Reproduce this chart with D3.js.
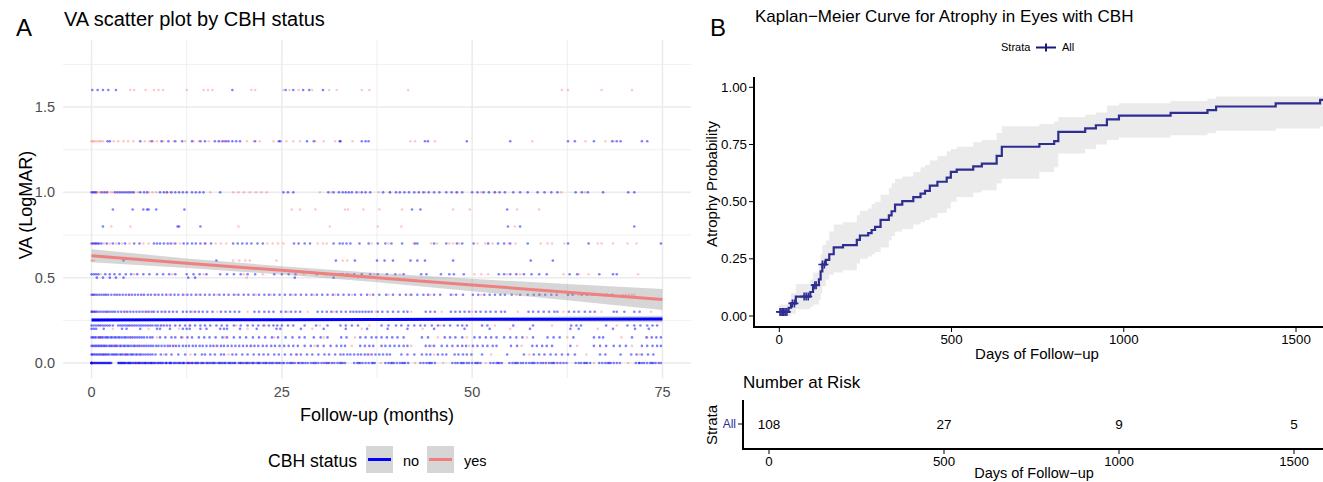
<!DOCTYPE html>
<html><head><meta charset="utf-8">
<script src="https://cdn.jsdelivr.net/npm/d3@7"></script>
<style>body{margin:0;background:#fff;} text{font-family:"Liberation Sans",Arial,Helvetica,sans-serif;}</style>
</head><body><svg id="c" width="1323" height="482"></svg>
<script>
// ---------------- Panel A data: VA (LogMAR) levels and follow-up months ----------------
const vaLevels = [0, 0.05, 0.1, 0.15, 0.2, 0.22, 0.3, 0.4, 0.5, 0.52, 0.6, 0.7, 0.8, 0.9, 1.0, 1.3, 1.6];
const no_000 = [0,0,0,0,0.1,0.3,0.4,0.6,0.8,0.9,1.1,1.3,1.4,1.6,1.8,1.9,2.1,2.3,2.5,2.6,3.5,3.6,3.8,4.0,4.1,4.3,4.5,4.7,4.9,5.0,5.2,5.5,5.7,5.8,6.1,6.3,6.4,6.6,6.9,7.1,7.2,7.5,7.7,7.9,8.0,8.3,8.5,8.8,9.0,9.1,9.4,9.7,9.9,10.2,10.4,10.5,10.8,11.1,11.3,11.6,11.8,12.1,12.2,12.5,12.8,13.0,13.3,13.6,13.7,14.0,14.3,14.5,14.8,15.1,15.2,15.6,15.8,16.0,16.3,16.6,16.9,17.1,17.3,17.6,17.9,18.2,18.4,18.6,18.9,19.3,19.5,19.8,20.0,20.3,20.6,20.8,21.1,21.4,21.7,21.9,22.2,22.5,22.7,23.0,23.3,23.5,23.9,24.2,24.4,24.8,25.1,25.3,25.7,26.0,26.4,26.7,27.1,27.3,27.8,28.1,28.4,28.8,29.1,29.5,29.8,30.2,30.5,30.8,31.2,31.6,31.9,32.3,32.6,33.0,33.3,34.5,34.9,35.3,35.6,36.0,36.4,36.8,37.2,38.6,39.0,39.3,39.7,40.1,40.5,40.8,41.2,41.6,43.2,43.6,44.0,44.3,44.7,45.1,47.4,47.8,48.1,48.5,48.9,49.3,49.6,50.0,50.4,50.8,51.1,52.4,52.8,53.2,53.6,53.9,54.9,55.3,55.6,56.0,56.4,56.7,57.1,57.5,57.8,58.2,58.6,59.0,59.3,59.7,60.1,60.4,60.8,61.2,61.6,62.0,62.4,63.6,64.0,64.3,64.7,65.1,65.5,66.7,67.1,67.5,67.8,68.2,68.6,69.0,69.4,71.5,71.9,72.3,72.6,73.0,73.4,73.8,74.1,74.5,74.8,
  0,0.2,0.5,0.7,1.0,1.2,1.5,1.7,2.0,2.2,2.4,3.7,3.9,4.2,4.4,4.8,5.1,5.4,5.9,6.2,6.7,7.0,7.4,7.8,8.2,8.7,9.3,9.8,10.3,10.9,11.5,12.0,12.7,13.2,13.9,14.6,15.4,16.1,16.8,17.5,18.1,18.8,19.6,20.4,21.2,22.0,22.9,23.7,24.6,26.2,27.6,29.3,31.0,32.8,35.1,37.0,39.5,41.0,44.5,48.7,50.6,53.4,55.8,58.0,60.6,64.9,68.0,72.0,73.6];
const yes_000 = [0.5,5.8,6.3,12.6,13.2,20.2,26.5,31.4,38.0,42.5,46.2,51.8,59.5,66.0,70.5];
const no_005 = [0,0.1,0.3,0.5,0.7,0.9,1.1,1.3,1.5,1.7,1.9,2.1,2.3,2.6,2.8,3.0,3.2,3.4,3.7,3.9,4.1,4.4,4.6,4.8,5.1,5.3,5.5,5.8,6.0,6.3,6.5,6.8,7.1,7.4,7.7,8.0,8.4,9.1,9.8,10.5,11.4,12.3,13.6,14.5,14.9,15.6,16.2,17.0,17.4,18.5,19.0,19.8,20.5,21.3,22.0,22.6,23.2,24.0,24.6,25.4,26.2,26.9,27.5,28.3,29.0,29.8,30.6,31.2,32.0,32.7,33.1,33.6,34.0,34.5,35.0,35.4,35.9,36.3,36.8,37.3,37.8,38.3,38.8,39.2,40.7,41.5,42.4,43.4,44.0,44.5,45.5,46.1,46.6,47.7,48.2,48.8,49.3,49.9,51.3,54.6,56.8,58.1,58.8,59.5,60.3,61.0,61.8,62.6,63.5,66.8,67.5,69.5,70.9,71.6,72.3,73.1,73.8];
const yes_005 = [1.6,4.5,9.5,13.0,18.0,27.0,36.5,45.0,52.5,57.5,65.0,72.0];
const no_010 = [0,0.2,0.4,0.6,0.8,1.0,1.2,1.4,1.6,1.8,2.0,2.3,2.5,2.7,3.0,3.2,3.4,3.7,3.9,4.2,4.4,4.7,4.9,5.2,5.5,5.7,6.0,6.3,6.6,6.9,7.2,7.5,7.8,8.1,8.5,8.8,9.2,9.6,10.0,10.3,10.7,11.1,11.5,12.0,12.4,12.8,13.3,13.7,14.2,14.6,15.1,15.6,16.0,16.5,17.0,17.4,17.9,18.4,18.9,19.4,19.9,20.4,20.9,21.4,21.9,22.5,23.0,23.6,24.1,24.7,25.3,25.9,26.5,27.1,28.0,28.8,29.7,30.5,31.4,32.2,32.8,33.3,35.3,35.9,36.5,37.0,38.1,38.6,39.2,39.8,40.4,41.0,41.5,43.9,44.4,45.0,46.0,46.7,47.4,48.1,48.7,49.2,50.1,50.7,51.4,52.0,52.7,53.2,55.1,55.9,57.9,58.5,59.2,59.8,60.5,62.9,66.0,66.8,67.6,68.6,69.4,70.2,72.3,73.0,73.7,74.3,74.8];
const yes_010 = [2.9,6.2,10.9,16.3,21.0,29.3,34.2,42.0,44.7,49.6,56.5,63.8,71.0];
const no_015 = [0,0.2,0.4,0.6,0.9,1.1,1.3,1.5,1.8,2.0,2.2,2.5,2.7,3.0,3.2,3.5,3.7,4.0,4.3,4.5,4.8,5.1,5.4,5.7,6.0,6.3,6.6,6.9,7.3,7.7,8.0,9.0,9.7,10.5,11.0,11.8,12.6,13.2,14.1,14.8,15.5,16.3,17.2,17.8,18.7,19.5,20.3,21.2,22.0,22.8,23.7,24.5,25.5,26.4,27.3,28.0,29.2,30.1,31.0,32.8,33.5,35.3,36.0,36.8,37.4,38.1,38.8,39.5,40.2,41.0,43.4,44.2,46.4,47.1,47.8,48.7,50.3,51.0,51.8,52.5,53.2,54.2,55.0,55.8,56.6,58.0,59.9,60.7,61.5,63.3,66.0,66.7,67.2,71.0,72.9,73.6,74.2,74.8];
const yes_015 = [1.0,5.2,8.6,12.0,17.5,24.0,30.5,34.6,45.5,49.3,57.2,62.5,69.6,73.0];
const no_020 = [0,0.3,0.6,1.6,4.0,4.6,6.4,8.6,9.0,10.3,12.0,12.5,12.9,14.3,15.1,16.9,17.4,17.8,19.5,21.7,24.3,24.8,27.5,30.5,33.4,36.2,38.9,41.5,45.0,49.0,52.3,57.6,62.9,64.0,68.5,71.4,73.2];
const yes_020 = [2.8,7.5,11.5,20.5,29.0,35.5,43.5,55.0,66.5];
const no_022 = [0,0.3,0.6,0.9,1.2,1.5,1.8,2.1,2.4,2.8,3.5,3.8,4.1,4.4,4.7,5.0,5.3,5.6,5.9,6.2,6.5,6.8,7.1,7.4,7.7,8.0,8.4,8.7,9.1,9.5,9.9,10.3,11.0,11.6,12.3,12.9,13.6,14.3,14.9,15.6,16.4,17.1,17.8,18.7,19.6,20.5,21.2,21.9,22.6,23.3,23.9,24.4,25.0,25.8,26.5,28.0,29.5,31.0,32.7,33.4,34.2,35.0,38.1,39.0,40.0,40.7,41.6,42.4,43.2,43.8,44.7,45.5,46.3,47.1,48.1,48.7,49.3,51.3,52.0,55.4,58.0,63.0,63.7,64.3,67.6,70.4,71.3,72.1,73.0,73.7,74.3];
const yes_022 = [1.0,4.9,9.2,13.0,19.0,22.8,30.0,36.5,45.8,53.0,60.5,69.0];
const no_030 = [0,0.1,0.3,0.5,0.7,1.0,1.3,1.6,1.9,2.2,2.5,2.8,3.1,3.5,3.9,4.3,4.7,5.1,5.5,5.9,6.3,6.7,7.1,7.5,7.9,8.2,8.7,9.2,9.7,10.2,10.7,11.2,12.0,12.5,13.0,13.6,14.1,14.6,15.2,15.9,17.0,17.6,18.2,18.8,19.4,21.4,22.0,22.7,23.3,23.9,24.9,25.5,26.2,26.8,27.4,29.7,30.3,30.9,31.5,32.2,32.8,33.4,34.0,34.4,34.8,35.2,35.6,36.0,36.4,36.8,37.6,38.2,38.9,39.6,40.3,41.0,41.5,43.9,44.5,45.1,47.2,47.8,48.4,49.0,49.6,50.5,51.1,51.8,52.4,53.1,53.8,54.3,57.4,58.0,58.7,59.4,60.1,60.8,61.2,62.7,63.4,64.0,64.8,65.5,66.1,68.6,69.0,70.0,71.3,72.0];
const yes_030 = [0.4,2.0,4.5,7.3,9.5,13.3,16.5,20.5,25.8,28.4,31.8,37.3,42.0,46.0,50.0,56.0,62.0,67.0,73.5];
const no_040 = [0,0.2,0.4,0.7,1.0,1.3,1.6,1.9,2.2,2.6,3.0,3.3,3.7,4.1,4.5,4.9,5.3,5.7,6.1,6.5,6.9,7.4,7.8,8.3,8.8,9.3,9.8,10.4,10.9,11.4,12.0,12.6,13.1,13.7,14.3,14.9,15.5,16.1,16.8,17.4,18.0,18.7,19.3,20.0,20.6,21.3,22.0,22.7,23.3,24.0,24.7,25.4,26.1,26.8,27.5,28.2,28.9,29.6,30.3,31.0,31.7,32.4,33.1,33.8,34.6,35.4,36.2,37.0,37.8,38.7,39.6,40.5,41.3,42.0,42.8,43.6,44.2,45.0,45.8,47.2,47.9,48.8,50.1,50.8,51.6,52.3,53.0,53.7,54.3,55.2,56.3,57.3,58.1,58.8,59.6,60.4,61.1,62.6,63.2,64.4,65.1,65.8,67.7,68.4];
const yes_040 = [0.5,1.8,3.5,5.0,6.7,8.5,10.1,12.3,14.0,16.5,19.0,21.6,23.6,26.4,29.2,32.0,34.2,36.6,39.0,41.8,44.5,47.5,51.2,55.8,59.0,64.0,69.8,70.2,70.6,71.0,71.3];
const no_050 = [0.7,1.5,2.4,3.2,4.2,12.7,13.6,26.7,31.8];
const yes_050 = [20.4,35.0];
const no_052 = [0,0.3,0.6,0.9,1.8,2.4,3.0,3.7,4.5,5.2,6.0,6.8,7.6,8.6,9.4,10.2,11.0,12.5,13.4,14.2,15.1,16.9,17.8,18.7,19.6,20.5,21.5,24.0,25.0,25.9,26.8,29.6,30.8,31.9,32.6,33.0,33.6,34.5,35.5,36.6,37.6,38.8,39.9,41.0,43.3,44.0,45.9,47.0,47.6,48.9,53.5,54.2,55.0,55.8,56.8,57.8,58.8,59.8,62.8,63.8,66.7,68.5,69.0];
const yes_052 = [1.2,5.6,10.6,14.7,20.0,22.5,27.9,31.3,34.0,37.1,40.5,50.3,51.2,52.1,54.6,56.3,62.0,64.0,65.3,71.8];
const no_060 = [4.2,16.4,32.1,34.6,37.5,38.5,39.6,41.9,42.8,43.8,47.5,57.7,60.6];
const yes_060 = [0,0.3,18.6,19.4,20.2,20.8,24.3,33.0,33.6];
const no_070 = [0,0.2,0.4,0.6,0.8,1.0,1.3,2.0,2.8,3.6,4.4,5.6,6.3,8.2,8.6,9.0,9.5,10.0,10.4,11.0,12.1,12.6,13.2,13.7,14.3,14.9,15.7,18.6,19.2,19.8,20.4,21.0,21.8,22.5,26.6,27.2,28.0,28.7,31.8,32.6,33.0,33.5,34.0,35.2,36.4,37.6,38.6,39.4,40.8,42.5,42.8,45.0,46.6,48.0,48.7,50.2,52.1,53.4,54.2,55.0,57.3,62.6,65.3,74.8];
const yes_070 = [0.5,1.6,2.4,3.2,4.0,5.0,6.8,7.5,10.7,11.6,15.0,16.3,17.0,17.7,23.1,23.8,24.5,25.2,29.7,30.4,30.9,36.8,39.0,42.3,44.6,45.4,47.0,47.5,48.3,50.7,51.7,52.7,54.8,55.7,59.0,59.9,60.5,62.1,66.5,67.0,68.5,70.4,71.6];
const no_080 = [1.5,11.3,11.5,14.3,54.7,56.3,71.3];
const yes_080 = [2.6,5.1,19.3,31.3,37.6,40.7,55.6];
const no_090 = [2.8,5.4,6.8,7.3,7.5,8.5,12.2,42.1,43.2,54.6];
const yes_090 = [26.3,27.4,29.4,33.3,33.7,35.7,37.8,40.8,47.5,49.7,55.9,58.8];
const no_100 = [0,0.2,0.4,0.6,1.3,1.7,2.0,3.1,3.4,3.7,4.0,4.3,4.6,4.9,5.2,5.5,6.4,6.9,7.3,9.0,9.5,9.9,10.5,11.0,11.5,12.0,12.5,13.2,13.7,14.2,14.7,16.9,25.2,25.8,26.5,31.1,31.8,32.5,33.0,33.4,33.8,34.2,34.8,35.5,36.0,36.6,38.3,39.2,40.0,40.5,41.1,41.7,42.4,43.0,43.6,44.3,45.0,45.7,46.6,47.3,48.0,48.7,50.0,50.7,51.5,52.2,53.0,53.6,54.3,55.4,56.3,57.3,58.6,59.5,60.4,61.2,63.6,64.4,65.2,67.2,70.5,71.3];
const yes_100 = [0.7,1.0,1.5,2.2,2.6,2.9,5.6,6.1,7.5,8.0,8.5,9.9,10.3,15.6,18.6,19.3,20.0,20.8,21.6,22.3,23.0,30.0,31.5,35.1,37.7,39.2,43.8,47.9,51.2,52.9,61.7,64.8];
const no_130 = [2.1,2.4,6.4,7.9,9.2,10.1,11.0,11.9,13.2,14.3,14.9,16.2,16.7,17.2,17.6,18.0,18.5,19.0,19.5,21.5,24.6,24.8,28.3,29.2,32.6,32.7,35.5,36.0,36.4,43.8,44.2,49.3,55.0,62.6,63.5,66.0,68.4,69.0,69.5,72.3,73.0];
const yes_130 = [0,0.2,0.4,0.7,1.0,1.2,1.5,2.9,3.5,4.2,4.8,5.5,7.0,7.6,8.1,8.6,9.4,10.8,12.3,13.4,14.1,15.4,16.9,17.4,17.8,20.4,21.3,22.1,23.9,25.6,26.5,27.4,29.4,30.5,32.0,34.3,41.9,42.5,45.1,57.9,64.9,67.5,68.6];
const no_160 = [0.1,0.8,1.5,2.2,3.2,18.5,25.5,26.5,27.8,28.6,30.4];
const yes_160 = [5.1,5.6,7.1,8.2,8.8,9.4,12.5,14.7,15.3,15.9,21.0,21.5,25.2,26.0,27.2,29.0,31.2,32.2,35.5,36.5,41.6,61.8,62.6,67.0,71.0];
const noByLevel = [no_000,no_005,no_010,no_015,no_020,no_022,no_030,no_040,no_050,no_052,no_060,no_070,no_080,no_090,no_100,no_130,no_160];
const yesByLevel = [yes_000,yes_005,yes_010,yes_015,yes_020,yes_022,yes_030,yes_040,yes_050,yes_052,yes_060,yes_070,yes_080,yes_090,yes_100,yes_130,yes_160];

// linear fits (geom_smooth lm) with 95% CI
const fitMonths = [0, 12.5, 25, 37.5, 50, 62.5, 75];
const fitNo = [0.252, 0.253, 0.254, 0.255, 0.256, 0.257, 0.258];
const fitNoHalf = [0.008, 0.006, 0.006, 0.008, 0.011, 0.015, 0.019];
const fitYes = [0.628, 0.585, 0.543, 0.500, 0.457, 0.415, 0.372];
const fitYesHalf = [0.038, 0.028, 0.024, 0.027, 0.036, 0.048, 0.062];
const xTicksA = [0, 25, 50, 75];
const yTicksA = [0, 0.5, 1.0, 1.5];

// ---------------- Panel B data: Kaplan-Meier cumulative incidence ----------------
const kmDays = [0,27,34,48,90,98,115,120,125,135,145,158,185,225,234,258,268,278,294,318,326,336,357,389,410,423,437,459,486,498,515,563,588,631,646,755,798,810,888,919,951,986,1136,1243,1268,1441,1570];
const kmProb = [0.018,0.036,0.055,0.085,0.105,0.135,0.16,0.195,0.225,0.245,0.27,0.30,0.31,0.333,0.352,0.362,0.376,0.39,0.42,0.44,0.458,0.487,0.502,0.52,0.535,0.547,0.57,0.587,0.605,0.63,0.64,0.654,0.666,0.70,0.74,0.752,0.765,0.805,0.82,0.834,0.86,0.876,0.888,0.90,0.916,0.93,0.945];
const kmLower = [0,0,0.01,0.03,0.04,0.05,0.07,0.1,0.13,0.16,0.18,0.19,0.2,0.23,0.25,0.26,0.27,0.28,0.3,0.33,0.35,0.37,0.38,0.4,0.41,0.42,0.43,0.45,0.47,0.5,0.52,0.54,0.55,0.58,0.6,0.63,0.65,0.71,0.73,0.75,0.77,0.78,0.79,0.8,0.81,0.82,0.83];
const kmUpper = [0.05,0.07,0.1,0.14,0.16,0.19,0.22,0.27,0.31,0.33,0.37,0.40,0.41,0.44,0.46,0.47,0.49,0.5,0.53,0.56,0.58,0.6,0.61,0.63,0.65,0.66,0.68,0.7,0.72,0.73,0.74,0.76,0.77,0.8,0.83,0.84,0.85,0.87,0.88,0.89,0.92,0.93,0.94,0.95,0.96,0.96,0.96];
const censorDays = [2,5,9,13,17,22,38,44,72,78,84,103,107,125,131];
const xTicksB = [0, 500, 1000, 1500];
const yTicksB = [0, 0.25, 0.5, 0.75, 1.0];
const riskDays = [0, 500, 1000, 1500];
const riskCounts = [108, 27, 9, 5];

// ---------------- drawing ----------------
const svg = d3.select("#c");
const BLUE = "#0000ff", RED = "#ff0000", YESLINE = "#f08080", KM = "#2e2e92";

// ----- Panel A -----
const xA = d3.scaleLinear().domain([-3.75, 78.75]).range([63, 691]);
const yA = d3.scaleLinear().domain([-0.088, 1.893]).range([378, 40]);
const gA = svg.append("g");
const minorX = [12.5, 37.5, 62.5], minorY = [0.25, 0.75, 1.25, 1.75];
gA.selectAll(".mnx").data(minorX).join("line").attr("x1", d => xA(d)).attr("x2", d => xA(d)).attr("y1", 40).attr("y2", 378).attr("stroke", "#ebebeb").attr("stroke-width", 0.8);
gA.selectAll(".mny").data(minorY).join("line").attr("y1", d => yA(d)).attr("y2", d => yA(d)).attr("x1", 63).attr("x2", 691).attr("stroke", "#ebebeb").attr("stroke-width", 0.8);
gA.selectAll(".mjx").data(xTicksA).join("line").attr("x1", d => xA(d)).attr("x2", d => xA(d)).attr("y1", 40).attr("y2", 378).attr("stroke", "#ebebeb").attr("stroke-width", 1.5);
gA.selectAll(".mjy").data(yTicksA).join("line").attr("y1", d => yA(d)).attr("y2", d => yA(d)).attr("x1", 63).attr("x2", 691).attr("stroke", "#ebebeb").attr("stroke-width", 1.5);

const pts = [];
vaLevels.forEach((v, i) => {
  noByLevel[i].forEach(m => pts.push({m, v, g: "no"}));
  yesByLevel[i].forEach(m => pts.push({m, v, g: "yes"}));
});
gA.append("g").selectAll("circle").data(pts).join("circle")
  .attr("cx", d => xA(d.m)).attr("cy", d => yA(d.v)).attr("r", 1.3)
  .attr("fill", d => d.g === "no" ? BLUE : RED)
  .attr("fill-opacity", d => d.g === "no" ? 0.5 : 0.22);

function fitBand(vals, half) {
  return d3.area().x((d, i) => xA(fitMonths[i])).y0((d, i) => yA(vals[i] - half[i])).y1((d, i) => yA(vals[i] + half[i]))(fitMonths);
}
function fitLine(vals) {
  return d3.line().x((d, i) => xA(fitMonths[i])).y((d, i) => yA(vals[i]))(fitMonths);
}
gA.append("path").attr("d", fitBand(fitNo, fitNoHalf)).attr("fill", "#999999").attr("fill-opacity", 0.4);
gA.append("path").attr("d", fitBand(fitYes, fitYesHalf)).attr("fill", "#999999").attr("fill-opacity", 0.4);
gA.append("path").attr("d", fitLine(fitNo)).attr("stroke", BLUE).attr("stroke-width", 3).attr("fill", "none");
gA.append("path").attr("d", fitLine(fitYes)).attr("stroke", YESLINE).attr("stroke-width", 3).attr("fill", "none");

gA.selectAll(".ytl").data(yTicksA).join("text").attr("x", 55).attr("y", d => yA(d) + 5).attr("text-anchor", "end")
  .attr("font-size", 14.5).attr("fill", "#4d4d4d").text(d => d3.format(".1f")(d));
gA.selectAll(".xtl").data(xTicksA).join("text").attr("x", d => xA(d)).attr("y", 397).attr("text-anchor", "middle")
  .attr("font-size", 14.5).attr("fill", "#4d4d4d").text(d => d);
gA.append("text").attr("x", 377).attr("y", 421).attr("text-anchor", "middle").attr("font-size", 18).attr("fill", "#000").text("Follow-up (months)");
gA.append("text").attr("transform", "translate(32,205) rotate(-90)").attr("text-anchor", "middle").attr("font-size", 18).attr("fill", "#000").text("VA (LogMAR)");
gA.append("text").attr("x", 64).attr("y", 26).attr("font-size", 20).text("VA scatter plot by CBH status");
svg.append("text").attr("x", 16).attr("y", 36).attr("font-size", 24).text("A");

// legend A
const legA = svg.append("g");
legA.append("text").attr("x", 268).attr("y", 467).attr("font-size", 17.6).text("CBH status");
[{x: 366, c: BLUE, t: "no"}, {x: 427, c: YESLINE, t: "yes"}].forEach(k => {
  legA.append("rect").attr("x", k.x).attr("y", 446).attr("width", 27).attr("height", 27).attr("fill", "#d6d6d6");
  legA.append("line").attr("x1", k.x + 2).attr("x2", k.x + 25).attr("y1", 459.5).attr("y2", 459.5).attr("stroke", k.c).attr("stroke-width", 3);
  legA.append("text").attr("x", k.x + 37).attr("y", 466).attr("font-size", 14.5).text(k.t);
});

// ----- Panel B -----
const xB = d3.scaleLinear().domain([0, 1500]).range([779.3, 1296]);
const yB = d3.scaleLinear().domain([0, 1]).range([316, 87.3]);
const gB = svg.append("g");
svg.append("defs").append("clipPath").attr("id", "clipB").append("rect").attr("x", 755).attr("y", 70).attr("width", 570).attr("height", 256);
const km = kmDays.map((t, i) => ({t, p: kmProb[i], lo: kmLower[i], hi: kmUpper[i]}));
const kmExt = km.concat([{t: 1580, p: kmProb[kmProb.length - 1], lo: kmLower[kmLower.length - 1], hi: kmUpper[kmUpper.length - 1]}]);
const plotB = gB.append("g").attr("clip-path", "url(#clipB)");
plotB.append("path").attr("d", d3.area().curve(d3.curveStepAfter).x(d => xB(d.t)).y0(d => yB(d.lo)).y1(d => yB(d.hi))(kmExt))
  .attr("fill", "#ebebeb");
plotB.append("path").attr("d", d3.line().curve(d3.curveStepAfter).x(d => xB(d.t)).y(d => yB(d.p))(kmExt))
  .attr("fill", "none").attr("stroke", KM).attr("stroke-width", 2.2);
function probAt(t) { let p = kmProb[0]; kmDays.forEach((d, i) => { if (d <= t) p = kmProb[i]; }); return p; }
plotB.selectAll(".cens").data(censorDays).join("path")
  .attr("d", d => { const x = xB(d), y = yB(probAt(d)); return `M${x-4},${y}H${x+4}M${x},${y-4}V${y+4}`; })
  .attr("stroke", KM).attr("stroke-width", 1.6).attr("fill", "none");
// axes
gB.append("line").attr("x1", 754).attr("x2", 754).attr("y1", 77).attr("y2", 328).attr("stroke", "#000").attr("stroke-width", 2);
gB.append("line").attr("x1", 753).attr("x2", 1323).attr("y1", 327).attr("y2", 327).attr("stroke", "#000").attr("stroke-width", 2);
gB.selectAll(".ytk").data(yTicksB).join("line").attr("x1", 749).attr("x2", 754).attr("y1", d => yB(d)).attr("y2", d => yB(d)).attr("stroke", "#000").attr("stroke-width", 1);
gB.selectAll(".xtk").data(xTicksB).join("line").attr("y1", 327).attr("y2", 332).attr("x1", d => xB(d)).attr("x2", d => xB(d)).attr("stroke", "#000").attr("stroke-width", 1);
gB.selectAll(".ytlB").data(yTicksB).join("text").attr("x", 747).attr("y", d => yB(d) + 4.5).attr("text-anchor", "end").attr("font-size", 13.3).text(d => d3.format(".2f")(d));
gB.selectAll(".xtlB").data(xTicksB).join("text").attr("x", d => xB(d)).attr("y", 344).attr("text-anchor", "middle").attr("font-size", 13.3).text(d => d);
gB.append("text").attr("x", 1037).attr("y", 359).attr("text-anchor", "middle").attr("font-size", 15).text("Days of Follow\u2212up");
gB.append("text").attr("transform", "translate(717,184) rotate(-90)").attr("text-anchor", "middle").attr("font-size", 15).text("Atrophy Probability");
gB.append("text").attr("x", 755).attr("y", 22).attr("font-size", 17).text("Kaplan\u2212Meier Curve for Atrophy in Eyes with CBH");
svg.append("text").attr("x", 710).attr("y", 36).attr("font-size", 24).text("B");
// legend B
gB.append("text").attr("x", 1001).attr("y", 51).attr("font-size", 11).text("Strata");
gB.append("path").attr("d", "M1036,47.5H1056M1046,43.5V51.5").attr("stroke", "#1a1a7a").attr("stroke-width", 2);
gB.append("text").attr("x", 1062).attr("y", 51).attr("font-size", 11).text("All");

// risk table
const xR = d3.scaleLinear().domain([0, 1500]).range([769, 1294]);
const gR = svg.append("g");
gR.append("text").attr("x", 743).attr("y", 388).attr("font-size", 17).text("Number at Risk");
gR.append("line").attr("x1", 743).attr("x2", 743).attr("y1", 400).attr("y2", 450).attr("stroke", "#000").attr("stroke-width", 2);
gR.append("line").attr("x1", 742).attr("x2", 1323).attr("y1", 449).attr("y2", 449).attr("stroke", "#000").attr("stroke-width", 2);
gR.append("line").attr("x1", 738).attr("x2", 743).attr("y1", 424).attr("y2", 424).attr("stroke", "#000").attr("stroke-width", 1);
gR.selectAll(".rtk").data(riskDays).join("line").attr("x1", d => xR(d)).attr("x2", d => xR(d)).attr("y1", 449).attr("y2", 454).attr("stroke", "#000").attr("stroke-width", 1);
gR.selectAll(".rtl").data(riskDays).join("text").attr("x", d => xR(d)).attr("y", 466).attr("text-anchor", "middle").attr("font-size", 13.3).text(d => d);
gR.selectAll(".rn").data(riskCounts).join("text").attr("x", (d, i) => xR(riskDays[i])).attr("y", 429).attr("text-anchor", "middle").attr("font-size", 13.5).text(d => d);
gR.append("text").attr("x", 736).attr("y", 428).attr("text-anchor", "end").attr("font-size", 12).attr("fill", KM).text("All");
gR.append("text").attr("transform", "translate(717,425) rotate(-90)").attr("text-anchor", "middle").attr("font-size", 15).text("Strata");
gR.append("text").attr("x", 1034).attr("y", 478).attr("text-anchor", "middle").attr("font-size", 14.5).text("Days of Follow\u2212up");
</script></body></html>
